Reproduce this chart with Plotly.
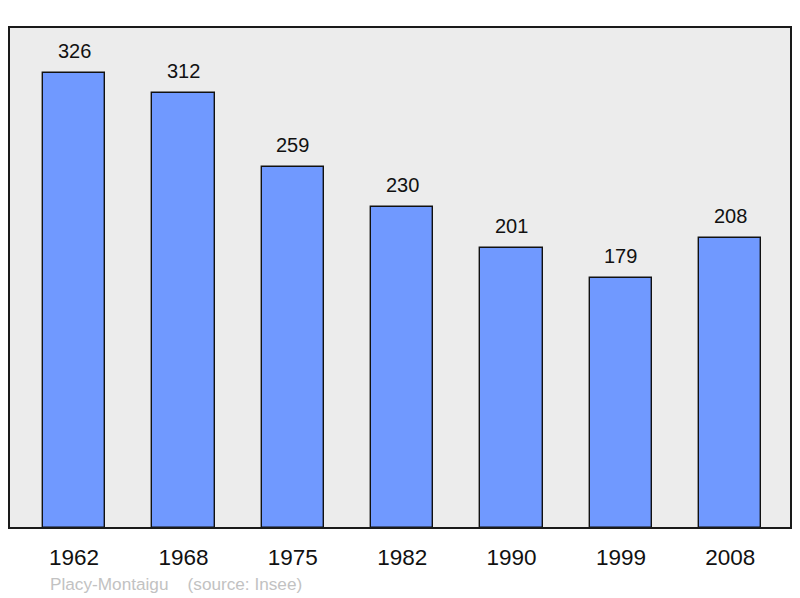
import plotly.graph_objects as go

years = ["1962", "1968", "1975", "1982", "1990", "1999", "2008"]
population = [326, 312, 259, 230, 201, 179, 208]
source_text = "Placy-Montaigu    (source: Insee)"

xpos = list(range(len(years)))

fig = go.Figure()
fig.add_trace(go.Bar(
    x=xpos, y=population, width=0.57,
    marker=dict(color="#7099ff", line=dict(color="#111111", width=1.4)),
    hoverinfo="skip",
))

for xi, v in zip(xpos, population):
    fig.add_annotation(x=xi, y=v, text=str(v), showarrow=False,
                       yanchor="bottom", yshift=9,
                       font=dict(family="Liberation Sans, Arial", size=20, color="#111111"))

fig.add_annotation(xref="paper", yref="paper", x=0.0495, y=-0.088,
                   xanchor="left", yanchor="top", showarrow=False,
                   text=source_text,
                   font=dict(family="Liberation Sans, Arial", size=17.2, color="#c2c2c2"))

fig.add_shape(type="rect", xref="paper", yref="paper", x0=0, y0=0, x1=1, y1=1,
              line=dict(color="#1a1a1a", width=2), layer="above")

fig.update_layout(
    width=800, height=598,
    margin=dict(l=9, r=9, t=27, b=70),
    paper_bgcolor="white", plot_bgcolor="#ececec",
    showlegend=False,
    bargap=0,
    xaxis=dict(range=[-0.595, 6.555], tickmode="array", tickvals=xpos, ticktext=years,
               showgrid=False, zeroline=False, ticks="outside", ticklen=9,
               tickcolor="rgba(0,0,0,0)",
               tickfont=dict(family="Liberation Sans, Arial", size=22.5, color="#111111")),
    yaxis=dict(range=[0, 359], showgrid=False, zeroline=False, showticklabels=False),
)

fig.write_html("out.html", config={"displayModeBar": False},
               post_script="document.body.style.margin='0';")
